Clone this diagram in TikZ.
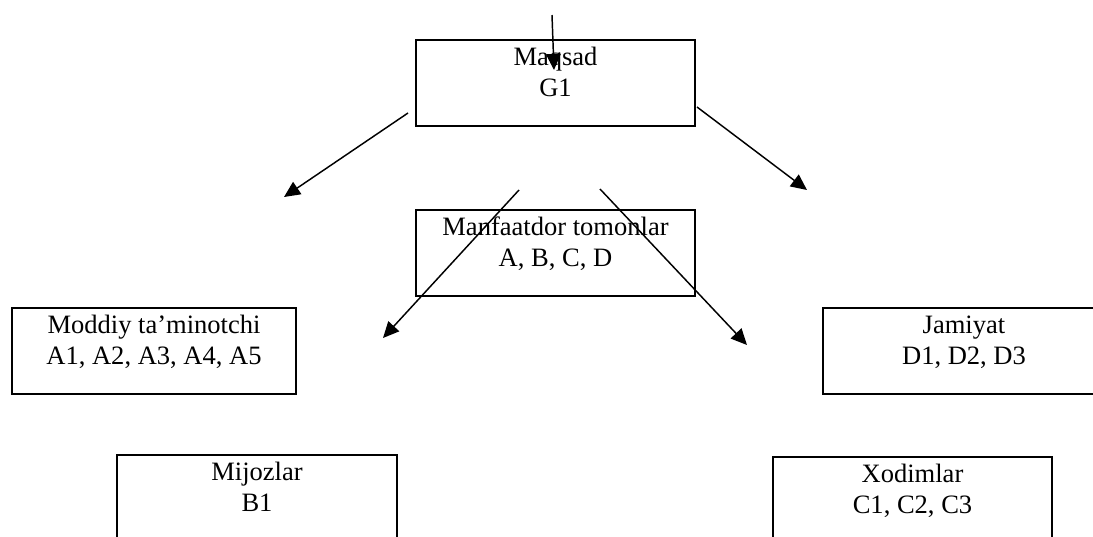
\documentclass[tikz,border=0pt]{standalone}
\usepackage{fontspec}
\setmainfont{Liberation Serif}
\usetikzlibrary{arrows.meta}
\tikzset{
  box/.style={draw=black, line width=1.5pt, minimum height=64.5pt, inner sep=0pt, anchor=north west},
  box text/.style={font=\fontsize{19.9}{23.25}\selectfont, align=center, anchor=north, inner sep=0pt, yshift=-3.2pt},
  link/.style={line width=1.1pt, arrows={-Triangle[length=12pt, width=11pt]}}
}

\begin{document}
\begin{tikzpicture}[x=0.75pt, y=-0.75pt]
  \useasboundingbox (0,0) rectangle (1093,536);

  \node[box, minimum width=209.25pt] at (415,39) (goal) {};
  \node[box text] at (goal.north) (goal text) {\strut Maqsad\\G1};

  \node[box, minimum width=209.25pt] at (415,209) (stake) {};
  \node[box text] at (stake.north) (stake text) {\strut Manfaatdor tomonlar\\A, B, C, D};

  \node[box, minimum width=213pt] at (11,307) (supplier) {};
  \node[box text] at (supplier.north) (supplier text) {\strut Moddiy ta’minotchi\\A1, A2, A3, A4, A5};

  \node[box, minimum width=211.5pt] at (822,307) (society) {};
  \node[box text] at (society.north) (society text) {\strut Jamiyat\\D1, D2, D3};

  \node[box, minimum width=210pt] at (116,454) (clients) {};
  \node[box text] at (clients.north) (clients text) {\strut Mijozlar\\B1};

  \node[box, minimum width=209.25pt] at (772,456) (staff) {};
  \node[box text] at (staff.north) (staff text) {\strut Xodimlar\\C1, C2, C3};

  % free ends of the arrows
  \coordinate (top start) at (552,15);
  \coordinate (top end) at (554,70);
  \coordinate (left start) at (408,113);
  \coordinate (left end) at (284,197);
  \coordinate (right start) at (697,107);
  \coordinate (right end) at (807,190);
  \coordinate (cross1 start) at (519,190);
  \coordinate (cross1 end) at (383,338);
  \coordinate (cross2 start) at (600,189);
  \coordinate (cross2 end) at (747,345);

  \draw[link] (top start) -- (top end);
  \draw[link] (left start) -- (left end);
  \draw[link] (right start) -- (right end);
  \draw[link] (cross1 start) -- (cross1 end);
  \draw[link] (cross2 start) -- (cross2 end);
\end{tikzpicture}
\end{document}
